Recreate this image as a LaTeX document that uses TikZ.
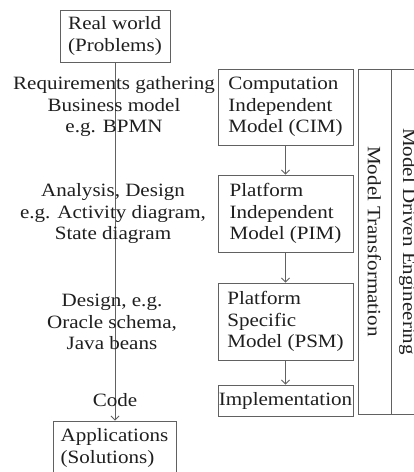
\documentclass[tikz,border=0pt]{standalone}
\usepackage{fontspec}
\setmainfont[FakeStretch=1.12]{Liberation Serif}
\usetikzlibrary{arrows.meta}
\begin{document}
\begin{tikzpicture}[x=1pt,y=-1pt,
  every node/.style={font=\fontsize{18.8}{21.5}\selectfont, text=black!88},
  box/.style={draw=black!62, line width=0.9pt, inner sep=0pt},
  stage/.style={box, align=left, minimum width=135pt},
  lbl/.style={align=center, inner sep=0pt},
  arr/.style={draw=black!62, line width=0.9pt, -{Straight Barb[length=4pt,width=8pt]}}]
\useasboundingbox[fill=white] (0,0) rectangle (414,472);
% left column
\node[box, align=left, minimum width=110pt, minimum height=52pt] (real) at (115,36) {Real world\\(Problems)};
\node[box, align=left, minimum width=123pt, minimum height=54pt] (app) at (114.5,448) {Applications\\(Solutions)};
\draw[arr] (real.south) -- (real.south |- app.north);
\node[lbl] (l1) at (114,107) {Requirements gathering\\Business model\\e.g. BPMN};
\node[lbl] (l2) at (113,214) {Analysis, Design\\e.g. Activity diagram,\\State diagram};
\node[lbl] (l3) at (112,322) {Design, e.g.\\Oracle schema,\\Java beans};
\node[lbl] (l4) at (115,400) {Code};
% right column
\node[stage, minimum height=76pt] (cim) at (285.5,107) {Computation\\Independent\\Model (CIM)};
\node[stage, minimum height=77pt] (pim) at (285.5,213.5) {Platform\\Independent\\Model (PIM)};
\node[stage, minimum height=77pt] (psm) at (285.5,321.5) {Platform\\Specific\\Model (PSM)\rlap{\phantom{dent}}};
\node[box, minimum width=135pt, minimum height=31pt] (impl) at (285.5,400.5) {Implementation};
\draw[arr] (cim.south) -- (pim.north);
\draw[arr] (pim.south) -- (psm.north);
\draw[arr] (psm.south) -- (impl.north);
% side bars
\node[box, rotate=-90, minimum width=345pt, minimum height=33pt] (mt) at (374.5,241.5) {Model Transformation};
\node[box, rotate=-90, minimum width=345pt, minimum height=33pt] (mde) at (407.5,241.5) {Model Driven Engineering};
\end{tikzpicture}
\end{document}
